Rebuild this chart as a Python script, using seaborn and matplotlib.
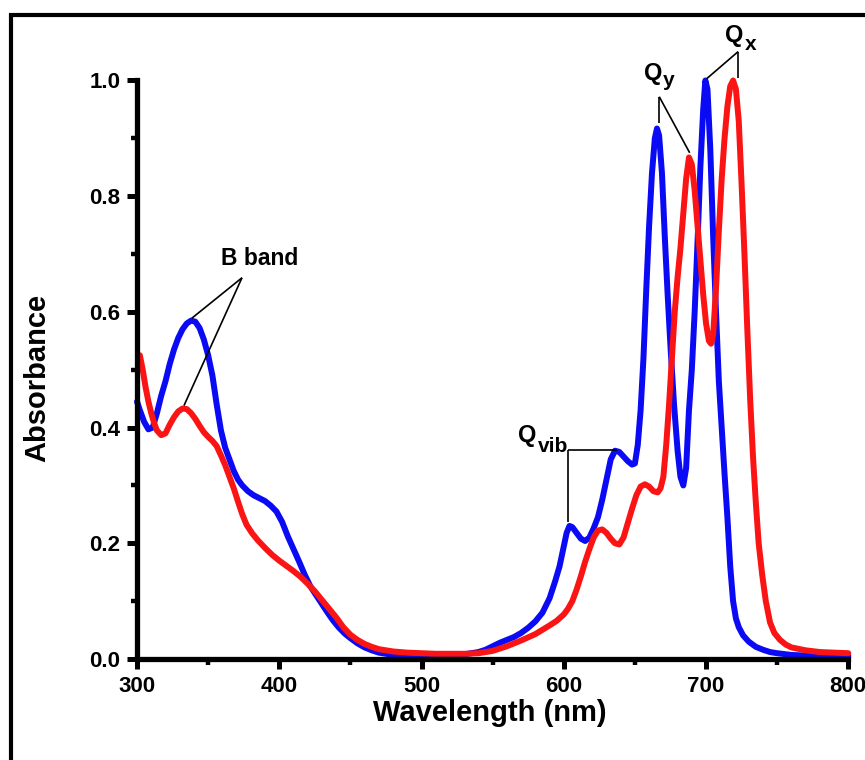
import matplotlib
matplotlib.use("Agg")
import matplotlib.pyplot as plt
from matplotlib.patches import Rectangle
from matplotlib.ticker import MultipleLocator
import seaborn as sns
import pandas as pd

# Absorption spectrum, series 1 (blue)
wl_blue = [300, 302, 305, 308, 311, 314, 317, 320, 323, 326, 329, 332, 335, 338, 341,
           344, 347, 350, 353, 356, 359, 362, 365, 368, 371, 374, 378, 382, 386, 390,
           394, 398, 402, 406, 410, 414, 418, 422, 426, 430, 434, 438, 442, 446, 450,
           455, 460, 465, 470, 480, 490, 500, 510, 520, 530, 540, 545, 550, 555, 560,
           565, 570, 575, 580, 585, 590, 594, 597, 600, 602, 604, 606, 609, 612, 615,
           618, 621, 624, 627, 630, 633, 636, 639, 642, 645, 648, 650, 652, 654, 656,
           658, 660, 662, 664, 665.5, 667, 669, 671, 673, 675, 677.5, 680, 682, 684, 686,
           688, 690, 692, 694, 696, 698, 699.5, 701, 703, 705, 707, 709, 711, 713, 715,
           717, 719, 721, 723, 726, 730, 735, 740, 745, 750, 760, 770, 780, 790, 800]
abs_blue = [0.445, 0.43, 0.41, 0.397, 0.40, 0.425, 0.455, 0.48, 0.51, 0.535, 0.555, 0.57, 0.58, 0.585, 0.583,
            0.572, 0.552, 0.525, 0.49, 0.44, 0.395, 0.365, 0.345, 0.325, 0.31, 0.30, 0.29, 0.283, 0.278, 0.273,
            0.265, 0.255, 0.237, 0.212, 0.19, 0.168, 0.145, 0.125, 0.11, 0.095, 0.08, 0.066, 0.054, 0.044, 0.036,
            0.027, 0.02, 0.015, 0.011, 0.007, 0.005, 0.004, 0.004, 0.005, 0.008, 0.012, 0.016, 0.022, 0.028, 0.033,
            0.038, 0.045, 0.054, 0.065, 0.08, 0.105, 0.135, 0.16, 0.195, 0.218, 0.23, 0.228, 0.218, 0.208, 0.204,
            0.21, 0.226, 0.245, 0.275, 0.31, 0.345, 0.36, 0.358, 0.35, 0.342, 0.336, 0.338, 0.37, 0.43, 0.52,
            0.64, 0.75, 0.84, 0.90, 0.917, 0.905, 0.84, 0.73, 0.63, 0.54, 0.44, 0.36, 0.315, 0.30, 0.33,
            0.43, 0.50, 0.60, 0.72, 0.85, 0.95, 1.0, 0.985, 0.88, 0.73, 0.60, 0.48, 0.40, 0.32, 0.245,
            0.16, 0.10, 0.07, 0.055, 0.041, 0.03, 0.021, 0.016, 0.012, 0.01, 0.007, 0.006, 0.005, 0.005, 0.005]

# Absorption spectrum, series 2 (red)
wl_red = [302, 304, 306, 308, 310, 312, 314, 317, 320, 323, 326, 329, 332, 335, 338,
          341, 344, 347, 350, 353, 356, 359, 362, 365, 368, 371, 374, 377, 381, 385,
          390, 395, 400, 405, 410, 415, 420, 425, 430, 435, 440, 445, 450, 455, 460,
          465, 470, 480, 490, 500, 510, 520, 530, 540, 550, 560, 570, 580, 590, 595,
          600, 603, 606, 609, 612, 615, 618, 621, 624, 627, 630, 633, 636, 639, 642,
          645, 648, 651, 654, 657, 660, 663, 666, 668, 670, 672, 674, 676, 678, 680,
          682, 684, 686, 688, 690, 692, 694, 696, 698, 700, 702, 703.5, 705, 707, 709,
          711, 713, 715, 717, 719, 721, 723, 725, 727, 729, 731, 733, 735, 737, 739.5,
          742, 745, 748, 752, 756, 760, 770, 780, 790, 800]
abs_red = [0.525, 0.50, 0.47, 0.445, 0.425, 0.408, 0.395, 0.387, 0.39, 0.405, 0.418, 0.428, 0.433, 0.432, 0.425,
           0.415, 0.403, 0.392, 0.384, 0.377, 0.368, 0.352, 0.335, 0.315, 0.295, 0.272, 0.25, 0.232, 0.217, 0.205,
           0.192, 0.18, 0.17, 0.161, 0.152, 0.142, 0.13, 0.117, 0.102, 0.087, 0.072, 0.055, 0.042, 0.033, 0.026,
           0.021, 0.017, 0.013, 0.011, 0.01, 0.009, 0.009, 0.009, 0.01, 0.014, 0.022, 0.032, 0.043, 0.058, 0.066,
           0.077, 0.087, 0.10, 0.12, 0.143, 0.168, 0.19, 0.21, 0.222, 0.224, 0.218, 0.208, 0.20, 0.198, 0.21,
           0.235, 0.26, 0.283, 0.298, 0.302, 0.298, 0.29, 0.288, 0.295, 0.315, 0.37, 0.44, 0.52, 0.60, 0.66,
           0.71, 0.77, 0.83, 0.867, 0.855, 0.81, 0.75, 0.69, 0.63, 0.58, 0.55, 0.545, 0.56, 0.64, 0.74,
           0.83, 0.90, 0.955, 0.99, 1.0, 0.985, 0.93, 0.82, 0.70, 0.57, 0.45, 0.35, 0.27, 0.20, 0.145,
           0.10, 0.063, 0.045, 0.033, 0.025, 0.02, 0.015, 0.012, 0.011, 0.01]

x_ticks = [300, 400, 500, 600, 700, 800]
y_ticks = [0.0, 0.2, 0.4, 0.6, 0.8, 1.0]

df_blue = pd.DataFrame({"Wavelength": wl_blue, "Absorbance": abs_blue})
df_red = pd.DataFrame({"Wavelength": wl_red, "Absorbance": abs_red})

sns.set_style("ticks")
plt.rcParams["font.family"] = ["Liberation Sans", "DejaVu Sans"]
plt.rcParams["font.weight"] = "bold"
plt.rcParams["text.color"] = "black"
plt.rcParams["axes.labelcolor"] = "black"

fig = plt.figure(figsize=(8.65, 7.6), dpi=100)
ax = fig.add_axes([0.1584, 0.1329, 0.9807 - 0.1584, 0.8941 - 0.1329])

sns.lineplot(data=df_blue, x="Wavelength", y="Absorbance", ax=ax, color="#0a0af5",
             lw=4.3, sort=False, estimator=None, clip_on=False)
sns.lineplot(data=df_red, x="Wavelength", y="Absorbance", ax=ax, color="#fa1414",
             lw=4.3, sort=False, estimator=None, clip_on=False)

ax.set_xlim(300, 800)
ax.set_ylim(0, 1.0)
ax.set_xticks(x_ticks)
ax.set_yticks(y_ticks)
ax.set_xticklabels([str(v) for v in x_ticks])
ax.set_yticklabels([f"{v:.1f}" for v in y_ticks])
ax.xaxis.set_minor_locator(MultipleLocator(50))
ax.yaxis.set_minor_locator(MultipleLocator(0.1))

for side in ["top", "right"]:
    ax.spines[side].set_visible(False)
for side in ["left", "bottom"]:
    ax.spines[side].set_linewidth(3.8)
    ax.spines[side].set_color("black")

ax.tick_params(which="major", direction="out", length=7, width=3.6, pad=5,
               labelsize=16, colors="black")
ax.tick_params(which="minor", direction="out", length=4, width=3.2, colors="black")
for lab in ax.get_xticklabels() + ax.get_yticklabels():
    lab.set_fontweight("bold")

ax.set_xlabel("Wavelength (nm)", fontsize=21, fontweight="bold", va="center", color="black")
ax.set_ylabel("Absorbance", fontsize=21, fontweight="bold", va="center", color="black")
ax.xaxis.set_label_coords(0.4963, -0.0933)
ax.yaxis.set_label_coords(-0.1406, 0.486)

# Band assignment leader lines
line_kw = dict(color="black", lw=1.2, clip_on=False, solid_capstyle="butt")
ax.plot([373.8, 338.5], [0.659, 0.589], **line_kw)
ax.plot([373.8, 333.0], [0.659, 0.438], **line_kw)
ax.plot([667.1, 667.1], [0.972, 0.927], **line_kw)
ax.plot([667.1, 688.5], [0.972, 0.875], **line_kw)
ax.plot([722.6, 700.4], [1.05, 1.003], **line_kw)
ax.plot([722.6, 722.6], [1.05, 1.005], **line_kw)
ax.plot([603.0, 637.2], [0.361, 0.361], **line_kw)
ax.plot([603.0, 603.0], [0.361, 0.236], **line_kw)

txt_kw = dict(ha="left", va="baseline", fontweight="bold", color="black", clip_on=False)
ax.text(358.8, 0.681, "B band", fontsize=16.5, **txt_kw)
ax.text(656.4, 1.001, "Q", fontsize=17, **txt_kw)
ax.text(669.7, 0.990, "y", fontsize=15, **txt_kw)
ax.text(713.3, 1.067, "Q", fontsize=17, **txt_kw)
ax.text(727.4, 1.053, "x", fontsize=15, **txt_kw)
ax.text(568.0, 0.3756, "Q", fontsize=17, **txt_kw)
ax.text(582.1, 0.3583, "vib", fontsize=15, **txt_kw)

# Outer border around the figure
fig.add_artist(Rectangle((10.5 / 865, -0.05), 1.2, 1 - 15 / 760 + 0.05,
                         transform=fig.transFigure, fill=False, lw=3.0,
                         edgecolor="black", clip_on=False))

fig.savefig("out.png", dpi=100, facecolor="white")
